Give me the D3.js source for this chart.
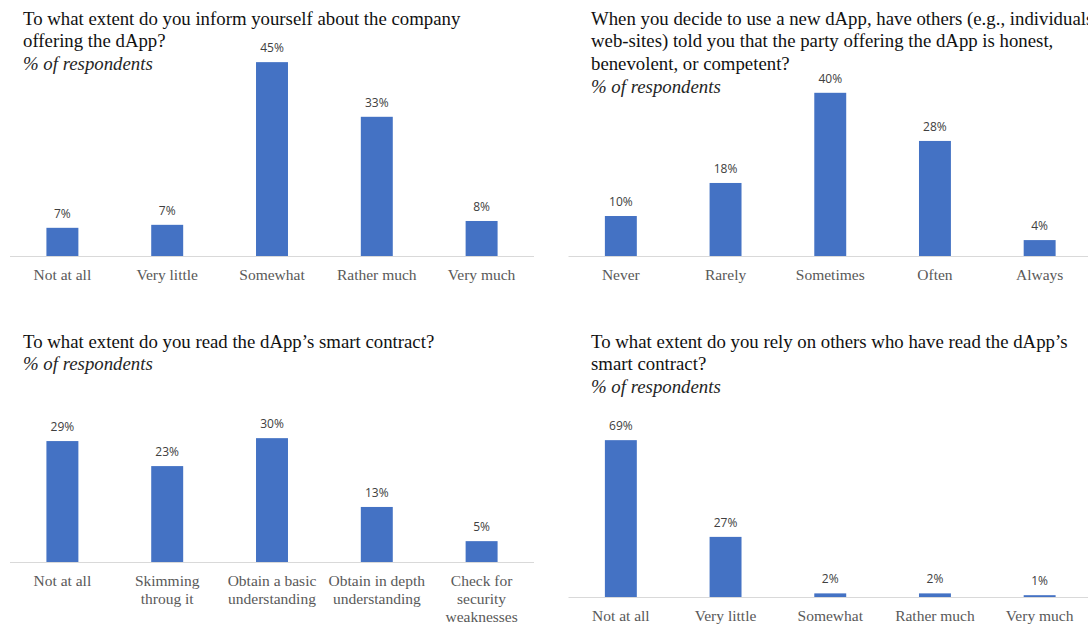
<!DOCTYPE html>
<html>
<head>
<meta charset="utf-8">
<script src="https://cdn.jsdelivr.net/npm/d3@7"></script>
<style>
  body { margin: 0; background: #fff; }
  svg { display: block; }
  .title { font-family: "Liberation Serif", "Times New Roman", serif; font-size: 18.8px; fill: #111; }
  .sub { font-family: "Liberation Serif", "Times New Roman", serif; font-size: 18.8px; font-style: italic; fill: #262626; }
  .cat { font-family: "Liberation Serif", "Times New Roman", serif; font-size: 15.5px; fill: #595959; }
  .val { font-family: "Open Sans", "Liberation Sans", sans-serif; font-size: 12px; fill: #404040; }
</style>
</head>
<body>
<svg width="1088" height="625"></svg>
<script>
// chart 1
const title1 = ['To what extent do you inform yourself about the company', 'offering the dApp?']
const cats1 = [['Not at all'], ['Very little'], ['Somewhat'], ['Rather much'], ['Very much']]
const vals1 = [6.6, 7.3, 45.4, 32.6, 8.2]

// chart 2
const title2 = ['When you decide to use a new dApp, have others (e.g., individuals,',
  'web-sites) told you that the party offering the dApp is honest,',
  'benevolent, or competent?']
const cats2 = [['Never'], ['Rarely'], ['Sometimes'], ['Often'], ['Always']]
const vals2 = [9.8, 17.9, 40.0, 28.2, 3.9]

// chart 3
const title3 = ['To what extent do you read the dApp\u2019s smart contract?']
const cats3 = [['Not at all'], ['Skimming', 'throug it'], ['Obtain a basic', 'understanding'],
  ['Obtain in depth', 'understanding'], ['Check for', 'security', 'weaknesses']]
const vals3 = [29.0, 23.0, 29.7, 13.2, 5.0]

// chart 4
const title4 = ['To what extent do you rely on others who have read the dApp\u2019s', 'smart contract?']
const cats4 = [['Not at all'], ['Very little'], ['Somewhat'], ['Rather much'], ['Very much']]
const vals4 = [69.4, 26.6, 1.6, 1.6, 0.8]

const subtitle = '% of respondents'

const svg = d3.select('svg')
const fmt = v => d3.format('.0f')(v) + '%'

// layout per panel
const panels = [
  {title: title1, cats: cats1, vals: vals1, tx: 23, ty: 24.5, x0: 10, x1: 534, base: 256, ymax: 50, top: 42.5},
  {title: title2, cats: cats2, vals: vals2, tx: 591, ty: 24.5, x0: 568.5, x1: 1092, base: 256, ymax: 50, top: 52},
  {title: title3, cats: cats3, vals: vals3, tx: 23, ty: 347.5, x0: 10, x1: 534, base: 562, ymax: 50, top: 353.5},
  {title: title4, cats: cats4, vals: vals4, tx: 591, ty: 347.5, x0: 568.5, x1: 1092, base: 597, ymax: 80, top: 416.2}
]

panels.forEach(p => {
  const g = svg.append('g')
  const data = p.cats.map((c, i) => ({cat: c, key: c.join(' '), v: p.vals[i]}))

  const x = d3.scaleBand()
    .domain(data.map(d => d.key))
    .range([p.x0, p.x1])
    .paddingInner(0.695)
    .paddingOuter(0.3475)
  const y = d3.scaleLinear()
    .domain([0, p.ymax])
    .range([p.base, p.top])

  // title + subtitle
  const lines = p.title.concat([subtitle])
  g.selectAll('text.t')
    .data(lines)
    .enter().append('text')
    .attr('class', (d, i) => i == lines.length - 1 ? 'sub' : 'title')
    .attr('x', p.tx)
    .attr('y', (d, i) => p.ty + i * 22.7)
    .text(d => d)

  g.selectAll('rect')
    .data(data)
    .enter().append('rect')
    .attr('x', d => x(d.key))
    .attr('width', x.bandwidth())
    .attr('y', d => y(d.v))
    .attr('height', d => y(0) - y(d.v))
    .attr('fill', '#4472C4')

  g.selectAll('text.val')
    .data(data)
    .enter().append('text')
    .attr('class', 'val')
    .attr('text-anchor', 'middle')
    .attr('x', d => x(d.key) + x.bandwidth() / 2)
    .attr('y', d => y(d.v) - 10)
    .text(d => fmt(d.v))

  // axis line
  g.append('line')
    .attr('x1', p.x0).attr('x2', p.x1)
    .attr('y1', p.base + 0.5).attr('y2', p.base + 0.5)
    .attr('stroke', '#d9d9d9')

  const cl = g.selectAll('text.cat')
    .data(data)
    .enter().append('text')
    .attr('class', 'cat')
    .attr('text-anchor', 'middle')
    .attr('x', d => x(d.key) + x.bandwidth() / 2)
    .attr('y', p.base + 24)
  cl.selectAll('tspan')
    .data(d => d.cat)
    .enter().append('tspan')
    .attr('x', function() { return d3.select(this.parentNode).attr('x') })
    .attr('dy', (d, i) => i == 0 ? 0 : 18)
    .text(d => d)
})
</script>
</body>
</html>
